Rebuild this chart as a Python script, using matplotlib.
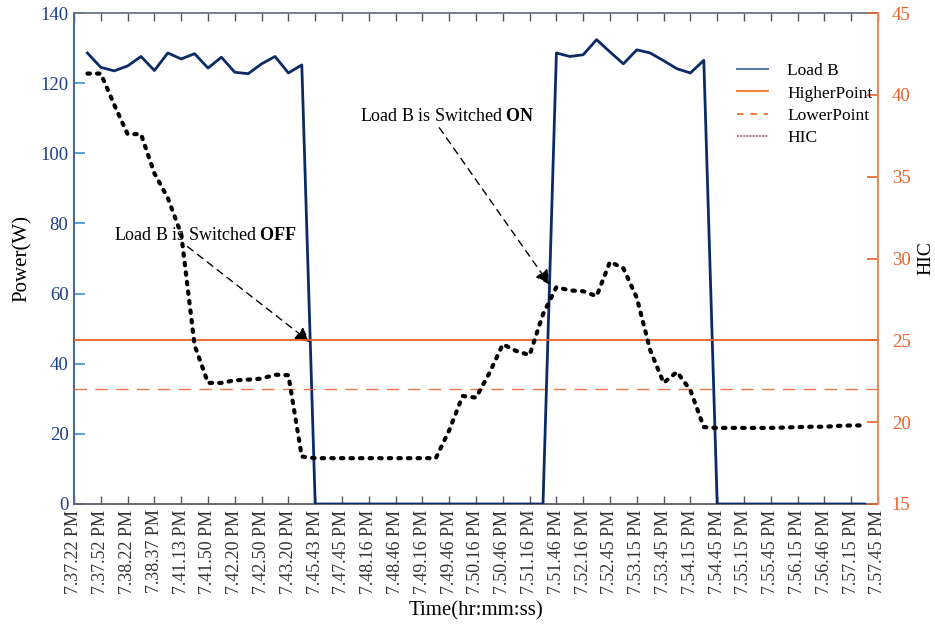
import matplotlib
matplotlib.use("Agg")
import matplotlib.pyplot as plt
from matplotlib.lines import Line2D

plt.rcParams['font.family'] = ['Liberation Serif', 'DejaVu Serif']
plt.rcParams['mathtext.fontset'] = 'custom'
plt.rcParams['mathtext.rm'] = 'Liberation Serif'
plt.rcParams['mathtext.bf'] = 'Liberation Serif:bold'

# ---- data ----
time_labels = ["7.37.22 PM", "7.37.52 PM", "7.38.22 PM", "7.38.37 PM", "7.41.13 PM",
               "7.41.50 PM", "7.42.20 PM", "7.42.50 PM", "7.43.20 PM", "7.45.43 PM",
               "7.47.45 PM", "7.48.16 PM", "7.48.46 PM", "7.49.16 PM", "7.49.46 PM",
               "7.50.16 PM", "7.50.46 PM", "7.51.16 PM", "7.51.46 PM", "7.52.16 PM",
               "7.52.45 PM", "7.53.15 PM", "7.53.45 PM", "7.54.15 PM", "7.54.45 PM",
               "7.55.15 PM", "7.55.45 PM", "7.56.15 PM", "7.56.46 PM", "7.57.15 PM",
               "7.57.45 PM"]

load_b = [128.6, 124.5, 123.5, 124.9, 127.6, 123.6, 128.6, 126.9, 128.4, 124.3,
          127.4, 123.1, 122.7, 125.5, 127.6, 122.9, 125.2, 0, 0, 0,
          0, 0, 0, 0, 0, 0, 0, 0, 0, 0,
          0, 0, 0, 0, 0, 128.6, 127.6, 128.1, 132.4, 128.9,
          125.5, 129.5, 128.6, 126.4, 124.1, 122.9, 126.5, 0, 0, 0,
          0, 0, 0, 0, 0, 0, 0, 0, 0]

hic = [41.3, 41.3, 39.4, 37.6, 37.6, 35.2, 33.7, 31.5, 24.7, 22.4,
       22.4, 22.56, 22.6, 22.66, 22.9, 22.87, 17.9, 17.8, 17.8, 17.8,
       17.8, 17.8, 17.8, 17.8, 17.8, 17.8, 17.8, 19.5, 21.6, 21.5,
       23.0, 24.76, 24.35, 24.1, 26.6, 28.25, 28.05, 28.0, 27.7, 29.8,
       29.4, 27.6, 24.4, 22.4, 23.07, 21.95, 19.7, 19.65, 19.65, 19.65,
       19.65, 19.65, 19.67, 19.7, 19.72, 19.72, 19.77, 19.8, 19.8]

higher_point = 25
lower_point = 22

# ---- figure ----
fig = plt.figure(figsize=(9.35, 6.27), dpi=100)
ax1 = fig.add_axes([74/935, 1-504/627, (878-74)/935, (504-13)/627])
ax2 = ax1.twinx()

x = list(range(1, len(load_b) + 1))
navy = '#0b2a66'
orange = '#e8622a'

ax1.plot(x, load_b, color=navy, lw=2.0, zorder=3)
ax2.axhline(higher_point, color=orange, lw=1.3, zorder=2)
ax2.axhline(lower_point, color=orange, lw=1.0, dashes=(9, 6), alpha=0.85, zorder=2)
ax2.plot(x, hic, color='black', lw=3.0, linestyle=(0, (0.6, 1.7)),
         dash_capstyle='round', zorder=4)

ax1.set_xlim(0, 60)
ax1.set_ylim(0, 140)
ax2.set_ylim(15, 45)
ax1.set_xticks(range(0, 61, 2))
ax1.set_xticklabels(time_labels, rotation=90)
ax1.set_yticks(range(0, 141, 20))
ax2.set_yticks(range(15, 46, 5))

# axis styles
ax1.tick_params(axis='y', direction='in', length=8, width=1.2, colors='#3b8fd6',
                labelcolor='#1f3f85', labelsize=13.5, pad=4)
ax1.tick_params(axis='x', direction='in', length=6, width=1.0, colors='#555555',
                labelcolor='#333333', labelsize=13, top=True, pad=4)
ax2.tick_params(axis='y', direction='in', length=8, width=1.2, colors=orange,
                labelcolor=orange, labelsize=13.5, pad=10)

ax1.spines['left'].set_color('#4a6a9a')
ax1.spines['left'].set_linewidth(1.5)
ax1.spines['bottom'].set_color('#5a5f66')
ax1.spines['bottom'].set_linewidth(1.3)
ax1.spines['top'].set_color('#6a7480')
ax1.spines['top'].set_linewidth(1.3)
ax2.spines['right'].set_color('#e88a5e')
ax2.spines['right'].set_linewidth(1.5)
for s in ['left', 'top', 'bottom']:
    ax2.spines[s].set_visible(False)
ax1.spines['right'].set_visible(False)

ax1.set_ylabel('Power(W)', fontsize=15, color='black', labelpad=6)
ax2.set_ylabel('HIC', fontsize=14, color='black')
ax2.yaxis.set_label_coords(1.0495, 0.5)
ax1.set_xlabel('Time(hr:mm:ss)', fontsize=15, color='black', labelpad=5)

# annotations
ax1.annotate('Load B is Switched $\\mathbf{OFF}$', xy=(17.6, 46.2), xytext=(9.85, 76.6),
             xycoords='data', textcoords='data', fontsize=13, ha='center', va='center',
             arrowprops=dict(arrowstyle='-|>', linestyle=(0, (5, 4)), color='black',
                             lw=1.0, mutation_scale=22, shrinkA=0, shrinkB=0,
                             relpos=(0.38, 0.0)), zorder=6)
ax1.annotate('Load B is Switched $\\mathbf{ON}$', xy=(35.5, 62.5), xytext=(27.9, 110.5),
             xycoords='data', textcoords='data', fontsize=13, ha='center', va='center',
             arrowprops=dict(arrowstyle='-|>', linestyle=(0, (5, 4)), color='black',
                             lw=1.0, mutation_scale=22, shrinkA=0, shrinkB=0,
                             relpos=(0.44, 0.0)), zorder=6)

handles = [Line2D([], [], color='#5b7aa6', lw=1.5),
           Line2D([], [], color='#f08a3c', lw=1.5),
           Line2D([], [], color='#e8622a', lw=1.2, dashes=(4, 4)),
           Line2D([], [], color='#b08080', lw=1.5, linestyle=(0, (1, 0.5)))]
leg = ax2.legend(handles, ['Load B', 'HigherPoint', 'LowerPoint', 'HIC'],
                 loc='upper left', bbox_to_anchor=(0.805, 0.93), frameon=False,
                 fontsize=12.5, handlelength=1.8, handletextpad=1.1, labelspacing=0.36)

fig.savefig('out.png', dpi=100)
